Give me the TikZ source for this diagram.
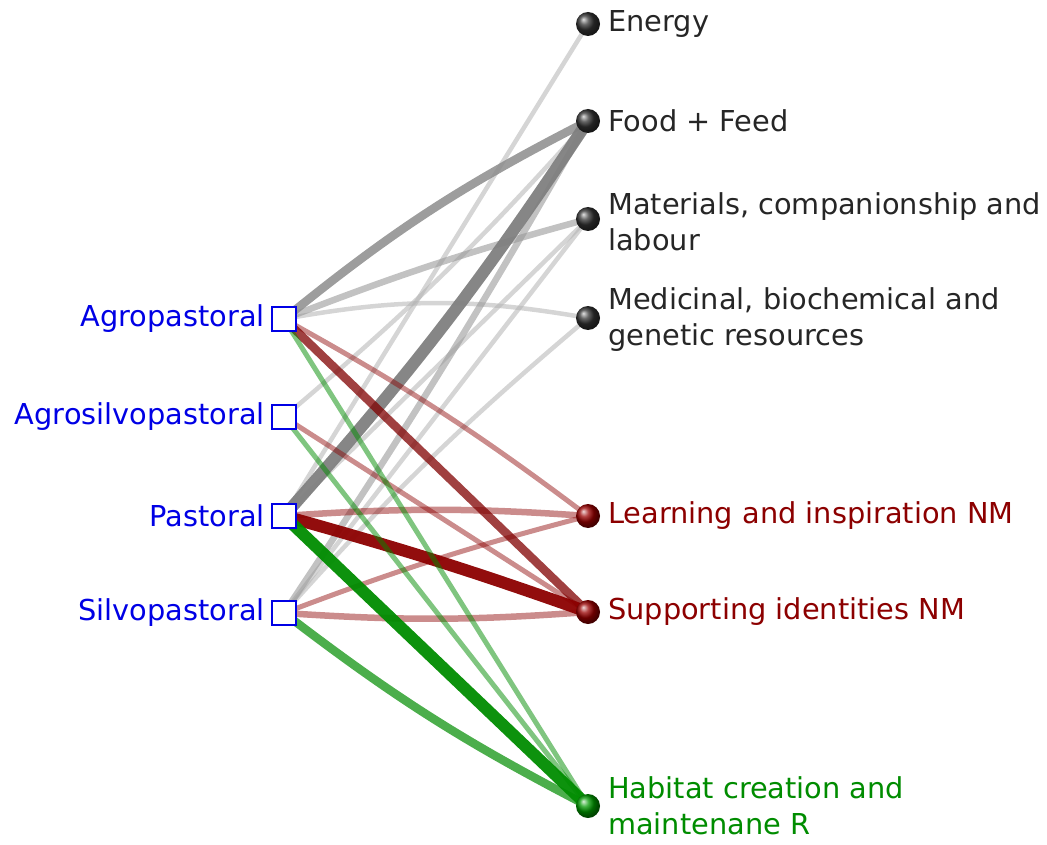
\documentclass[tikz,border=0pt]{standalone}
\usepackage{fontspec}
\setmainfont{DejaVu Sans}
\begin{document}
\begin{tikzpicture}[x=1pt,y=1pt,
  sq/.style={draw=blue!90!black,line width=2pt,fill=white,minimum size=24pt,inner sep=0pt},
  ballnode/.style={circle,minimum size=24pt,inner sep=0pt,shading=ball,ball color=#1},
  lleft/.style={anchor=east,text=blue!90!black,font=\fontsize{28.8}{36}\selectfont,inner sep=0pt},
  lright/.style={anchor=west,align=left,font=\fontsize{28.8}{36}\selectfont,inner sep=0pt,text=#1},
  gthick/.style={line width=12pt,draw=black!50,opacity=0.95},
  gmed/.style={line width=8.5pt,draw=black!45,opacity=0.85},
  gmid/.style={line width=6.5pt,draw=black!40,opacity=0.6},
  glight/.style={line width=4.5pt,draw=black!30,opacity=0.55},
  rthick/.style={line width=12pt,draw=red!55!black,opacity=0.95},
  rmed/.style={line width=8.5pt,draw=red!50!black,opacity=0.75},
  rlight/.style={line width=5pt,draw=red!55!black,opacity=0.45},
  gnthick/.style={line width=12pt,draw=green!55!black,opacity=0.95},
  gnmed/.style={line width=8.5pt,draw=green!55!black,opacity=0.7},
  gnlight/.style={line width=5pt,draw=green!55!black,opacity=0.5}]
\useasboundingbox (0,0) rectangle (1047,-845);
% coordinates for nodes
\coordinate (cA) at (284,-319);
\coordinate (cAS) at (284,-417);
\coordinate (cP) at (284,-516);
\coordinate (cS) at (284,-613);
\coordinate (cE) at (588,-24);
\coordinate (cF) at (588,-121);
\coordinate (cM) at (588,-219);
\coordinate (cMd) at (588,-318);
\coordinate (cL) at (588,-516);
\coordinate (cSu) at (588,-612);
\coordinate (cH) at (588,-806);
% grey edges
\draw[glight] (cP) to (cE);
\draw[glight] (cAS) to[bend right=4] (cF);
\draw[glight] (cP) to (cM);
\draw[glight] (cS) to (cM);
\draw[glight] (cS) to[bend left=4] (cMd);
\draw[glight] (cA) to[bend left=10] (cMd);
\draw[gmid] (cA) to[bend left=3] (cM);
\draw[gmid] (cS) to[bend right=2] (cF);
\draw[gmed] (cA) to[bend left=6] (cF);
\draw[gthick] (cP) to[bend right=4] (cF);
% red edges
\draw[rlight] (cA) to[bend left=4] (cL);
\draw[rlight] (cAS) to (cSu);
\draw[rlight] (cS) to[bend left=3] (cL);
\draw[rlight,line width=6.5pt] (cP) to[bend left=4] (cL);
\draw[rlight,line width=6.5pt] (cS) to[bend right=4] (cSu);
\draw[rmed] (cA) to (cSu);
\draw[rthick] (cP) to[bend left=2] (cSu);
% green edges
\draw[gnlight] (cA) to (cH);
\draw[gnlight] (cAS) to (cH);
\draw[gnmed] (cS) to[bend right=5] (cH);
\draw[gnthick] (cP) to (cH);
% left nodes
\node[sq] (A) at (cA) {};
\node[sq] (AS) at (cAS) {};
\node[sq] (P) at (cP) {};
\node[sq] (S) at (cS) {};
\node[lleft] (tA) at (265,-319) {Agropastoral};
\node[lleft] (tAS) at (265,-417) {Agrosilvopastoral};
\node[lleft] (tP) at (265,-516) {Pastoral};
\node[lleft] (tS) at (265,-613) {Silvopastoral};
% right nodes
\node[ballnode=black!80] (E) at (cE) {};
\node[ballnode=black!80] (F) at (cF) {};
\node[ballnode=black!80] (M) at (cM) {};
\node[ballnode=black!80] (Md) at (cMd) {};
\node[ballnode=red!60!black] (L) at (cL) {};
\node[ballnode=red!60!black] (Su) at (cSu) {};
\node[ballnode=green!60!black] (H) at (cH) {};
\node[lright=black!85] (tE) at (608,-24) {Energy};
\node[lright=black!85] (tF) at (608,-121) {Food + Feed};
\node[lright=black!85] (tM) at (608,-222) {Materials, companionship and\\labour};
\node[lright=black!85] (tMd) at (608,-320) {Medicinal, biochemical and\\genetic resources};
\node[lright=red!55!black] (tL) at (608,-516) {Learning and inspiration NM};
\node[lright=red!55!black] (tSu) at (608,-612) {Supporting identities NM};
\node[lright=green!55!black] (tH) at (608,-806) {Habitat creation and\\maintenane R};
\end{tikzpicture}
\end{document}
